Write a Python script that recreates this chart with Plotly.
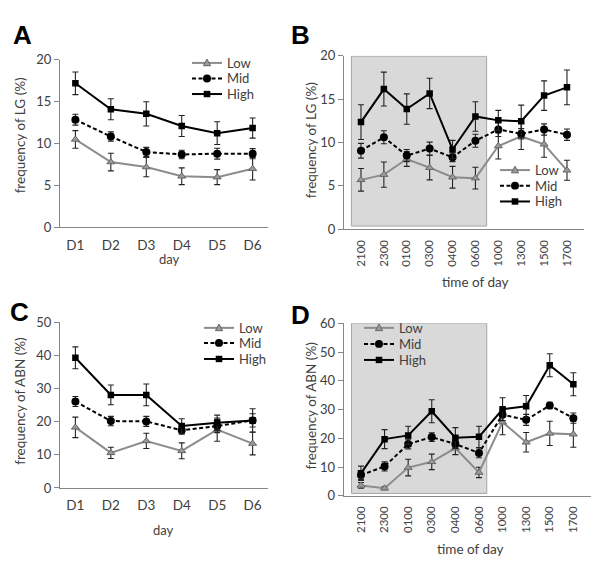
import plotly.graph_objects as go

days = ["D1", "D2", "D3", "D4", "D5", "D6"]
times = ["2100", "2300", "0100", "0300", "0400", "0600", "1000", "1300", "1500", "1700"]
groups = ["Low", "Mid", "High"]

# Panel A: frequency of LG (%) by day
A_low = [10.5, 7.8, 7.2, 6.1, 6.0, 7.0]
A_low_err = [1.05, 1.05, 1.15, 1.0, 0.9, 1.35]
A_mid = [12.85, 10.85, 9.0, 8.7, 8.8, 8.8]
A_mid_err = [0.65, 0.55, 0.55, 0.5, 0.65, 0.6]
A_high = [17.2, 14.1, 13.55, 12.1, 11.25, 11.85]
A_high_err = [1.35, 1.25, 1.45, 1.25, 1.35, 1.2]

# Panel B: frequency of LG (%) by time of day
B_low = [5.7, 6.3, 8.1, 7.1, 6.0, 5.9, 9.6, 10.7, 9.8, 6.8]
B_low_err = [1.3, 1.45, 0.85, 1.4, 1.25, 1.25, 1.5, 1.5, 1.5, 1.15]
B_mid = [9.05, 10.6, 8.5, 9.3, 8.3, 10.2, 11.5, 11.0, 11.5, 10.9]
B_mid_err = [0.85, 0.75, 0.7, 0.75, 0.5, 0.75, 0.8, 0.6, 0.65, 0.65]
B_high = [12.35, 16.15, 13.85, 15.65, 9.2, 13.0, 12.55, 12.45, 15.4, 16.35]
B_high_err = [2.0, 1.95, 1.75, 1.75, 1.05, 1.7, 1.15, 1.85, 1.7, 2.0]

# Panel C: frequency of ABN (%) by day
C_low = [18.3, 10.6, 14.2, 11.2, 17.6, 13.4]
C_low_err = [3.1, 1.7, 2.3, 2.4, 3.5, 3.4]
C_mid = [26.1, 20.2, 20.1, 17.4, 18.7, 20.4]
C_mid_err = [1.5, 1.4, 1.5, 1.2, 2.0, 2.0]
C_high = [39.3, 28.1, 28.1, 18.7, 19.7, 20.4]
C_high_err = [3.3, 3.0, 3.3, 2.2, 2.3, 3.5]

# Panel D: frequency of ABN (%) by time of day
D_low = [3.6, 2.6, 9.8, 11.8, 16.6, 8.1, 25.6, 18.6, 21.7, 21.4]
D_low_err = [1.0, 0.5, 2.9, 2.7, 2.3, 1.8, 4.4, 3.4, 4.2, 4.5]
D_mid = [7.2, 10.2, 18.0, 20.4, 18.0, 14.9, 28.2, 26.4, 31.4, 27.0]
D_mid_err = [1.5, 1.6, 1.7, 1.5, 1.5, 1.7, 2.0, 1.9, 1.1, 1.8]
D_high = [7.8, 19.7, 21.0, 29.4, 20.2, 20.5, 30.1, 31.1, 45.4, 38.8]
D_high_err = [2.5, 3.3, 3.2, 4.0, 3.5, 3.7, 4.0, 3.8, 4.0, 4.0]

# night period shading (category index units / value units)
B_night = (-0.42, 5.49, 0.38, 19.94)
D_night = (-0.40, 5.33, 0.8, 60)

W, H = 600, 576
FONT = "Lato, 'Open Sans', sans-serif"
TXT = "#404040"
AXC = "#868686"
LOW_C = "#8c8c8c"

styles = {
    "Low": dict(line=dict(color=LOW_C, width=2),
                marker=dict(symbol="triangle-up", size=7, color="#9a9a9a", line=dict(color="#666", width=1))),
    "Mid": dict(line=dict(color="black", width=2, dash="4px,2.5px"),
                marker=dict(symbol="circle", size=8, color="black")),
    "High": dict(line=dict(color="black", width=2),
                 marker=dict(symbol="square", size=6.5, color="black")),
}

fig = go.Figure()


def add_panel(xa, ya, cats, series):
    for name, vals, errs in zip(groups, series[0::2], series[1::2]):
        st = styles[name]
        fig.add_trace(go.Scatter(
            x=cats, y=vals, name=name, mode="lines+markers",
            xaxis=xa, yaxis=ya, showlegend=False,
            line=st["line"], marker=st["marker"],
            error_y=dict(type="data", array=errs, visible=True, color="#222", thickness=1.1, width=3),
        ))


add_panel("x", "y", days, [A_low, A_low_err, A_mid, A_mid_err, A_high, A_high_err])
add_panel("x2", "y2", times, [B_low, B_low_err, B_mid, B_mid_err, B_high, B_high_err])
add_panel("x3", "y3", days, [C_low, C_low_err, C_mid, C_mid_err, C_high, C_high_err])
add_panel("x4", "y4", times, [D_low, D_low_err, D_mid, D_mid_err, D_high, D_high_err])


def xax(domain, anchor, rot):
    d = dict(domain=domain, anchor=anchor, type="category", showline=True, linecolor=AXC, linewidth=1,
             showgrid=False, zeroline=False, ticks="outside", ticklen=5, tickcolor="rgba(0,0,0,0)",
             tickfont=dict(family=FONT, size=13.5 if not rot else 11.5, color=TXT))
    if rot:
        d["tickangle"] = -90
    return d


def yax(domain, anchor, rng, dt):
    return dict(domain=domain, anchor=anchor, range=rng, dtick=dt, showline=True, linecolor=AXC, linewidth=1,
                showgrid=False, zeroline=False, ticks="outside", ticklen=5, tickcolor=AXC,
                tickfont=dict(family=FONT, size=13, color=TXT))


fig.update_layout(
    width=W, height=H, margin=dict(l=0, r=0, t=0, b=0),
    paper_bgcolor="white", plot_bgcolor="rgba(0,0,0,0)", showlegend=False,
    xaxis=xax([0.1, 0.4467], "y", False),
    yaxis=yax([0.6082, 0.9075], "x", [0, 20], 5),
    xaxis2=xax([0.5733, 0.9733], "y2", True),
    yaxis2=yax([0.6047, 0.9149], "x2", [0, 20], 5),
    xaxis3=xax([0.1, 0.4467], "y3", False),
    yaxis3=yax([0.1429, 0.4387], "x3", [0, 50], 10),
    xaxis4=xax([0.5727, 0.9845], "y4", True),
    yaxis4=yax([0.129, 0.437], "x4", [0, 60], 10),
)

for (x0, x1, y0, y1), xr, yr in [(B_night, "x2", "y2"), (D_night, "x4", "y4")]:
    fig.add_shape(type="rect", xref=xr, yref=yr, x0=x0, x1=x1, y0=y0, y1=y1,
                  fillcolor="#d9d9d9", line=dict(color="#a6a6a6", width=1), layer="below")


def px(x):
    return x / W


def py(y):
    return 1 - y / H


# hand-drawn legends (sample line left edge in px, row centres in px)
legend_pos = [
    (192, [56.5, 72.5, 88.5]),
    (500, [166.7, 182.7, 199.0]),
    (204, [329.0, 344.5, 361.0]),
    (364, [329.0, 345.5, 362.0]),
]
SAMPLE = 30
for lx, rows in legend_pos:
    for name, yy in zip(groups, rows):
        st = styles[name]
        fig.add_shape(type="line", xref="paper", yref="paper", x0=px(lx), x1=px(lx + SAMPLE), y0=py(yy), y1=py(yy),
                      line=dict(color=st["line"]["color"], width=2, dash=st["line"].get("dash", "solid")))
        cx = lx + SAMPLE / 2
        if name == "Low":
            s = 3.6
            path = (f"M {px(cx - s)} {py(yy + s * 0.8)} L {px(cx + s)} {py(yy + s * 0.8)} "
                    f"L {px(cx)} {py(yy - s * 1.1)} Z")
            fig.add_shape(type="path", xref="paper", yref="paper", path=path,
                          fillcolor="#9a9a9a", line=dict(color="#666", width=1))
        elif name == "Mid":
            r = 4
            fig.add_shape(type="circle", xref="paper", yref="paper", x0=px(cx - r), x1=px(cx + r),
                          y0=py(yy + r), y1=py(yy - r), fillcolor="black", line=dict(width=0))
        else:
            r = 3.3
            fig.add_shape(type="rect", xref="paper", yref="paper", x0=px(cx - r), x1=px(cx + r),
                          y0=py(yy + r), y1=py(yy - r), fillcolor="black", line=dict(width=0))
        fig.add_annotation(text=name, x=px(lx + SAMPLE + 3), y=py(yy), xref="paper", yref="paper",
                           showarrow=False, xanchor="left", yanchor="middle",
                           font=dict(family=FONT, size=13, color=TXT))


def ann(text, x, y, size, bold=False, angle=0):
    fig.add_annotation(text=f"<b>{text}</b>" if bold else text, x=px(x), y=py(y), xref="paper", yref="paper",
                       showarrow=False, textangle=angle, xanchor="center", yanchor="middle",
                       font=dict(family=FONT if not bold else "Liberation Sans, Arial, sans-serif", size=size,
                                 color="black" if bold else TXT))


ann("A", 22, 28, 26, True)
ann("B", 300, 28, 26, True)
ann("C", 19, 313, 26, True)
ann("D", 300, 316, 26, True)
ann("day", 169, 258, 13)
ann("time of day", 475, 282, 13.5)
ann("day", 163, 537, 13)
ann("time of day", 470, 556, 13.5)
ann("frequency of LG (%)", 20, 131, 13.5, angle=-90)
ann("frequency of LG (%)", 311, 136, 13.5, angle=-90)
ann("frequency of ABN (%)", 20, 405, 13.5, angle=-90)
ann("frequency of ABN (%)", 311, 410, 13.5, angle=-90)

fig.write_html("out.html", config={"displayModeBar": False},
               post_script="document.body.style.margin='0px';")
